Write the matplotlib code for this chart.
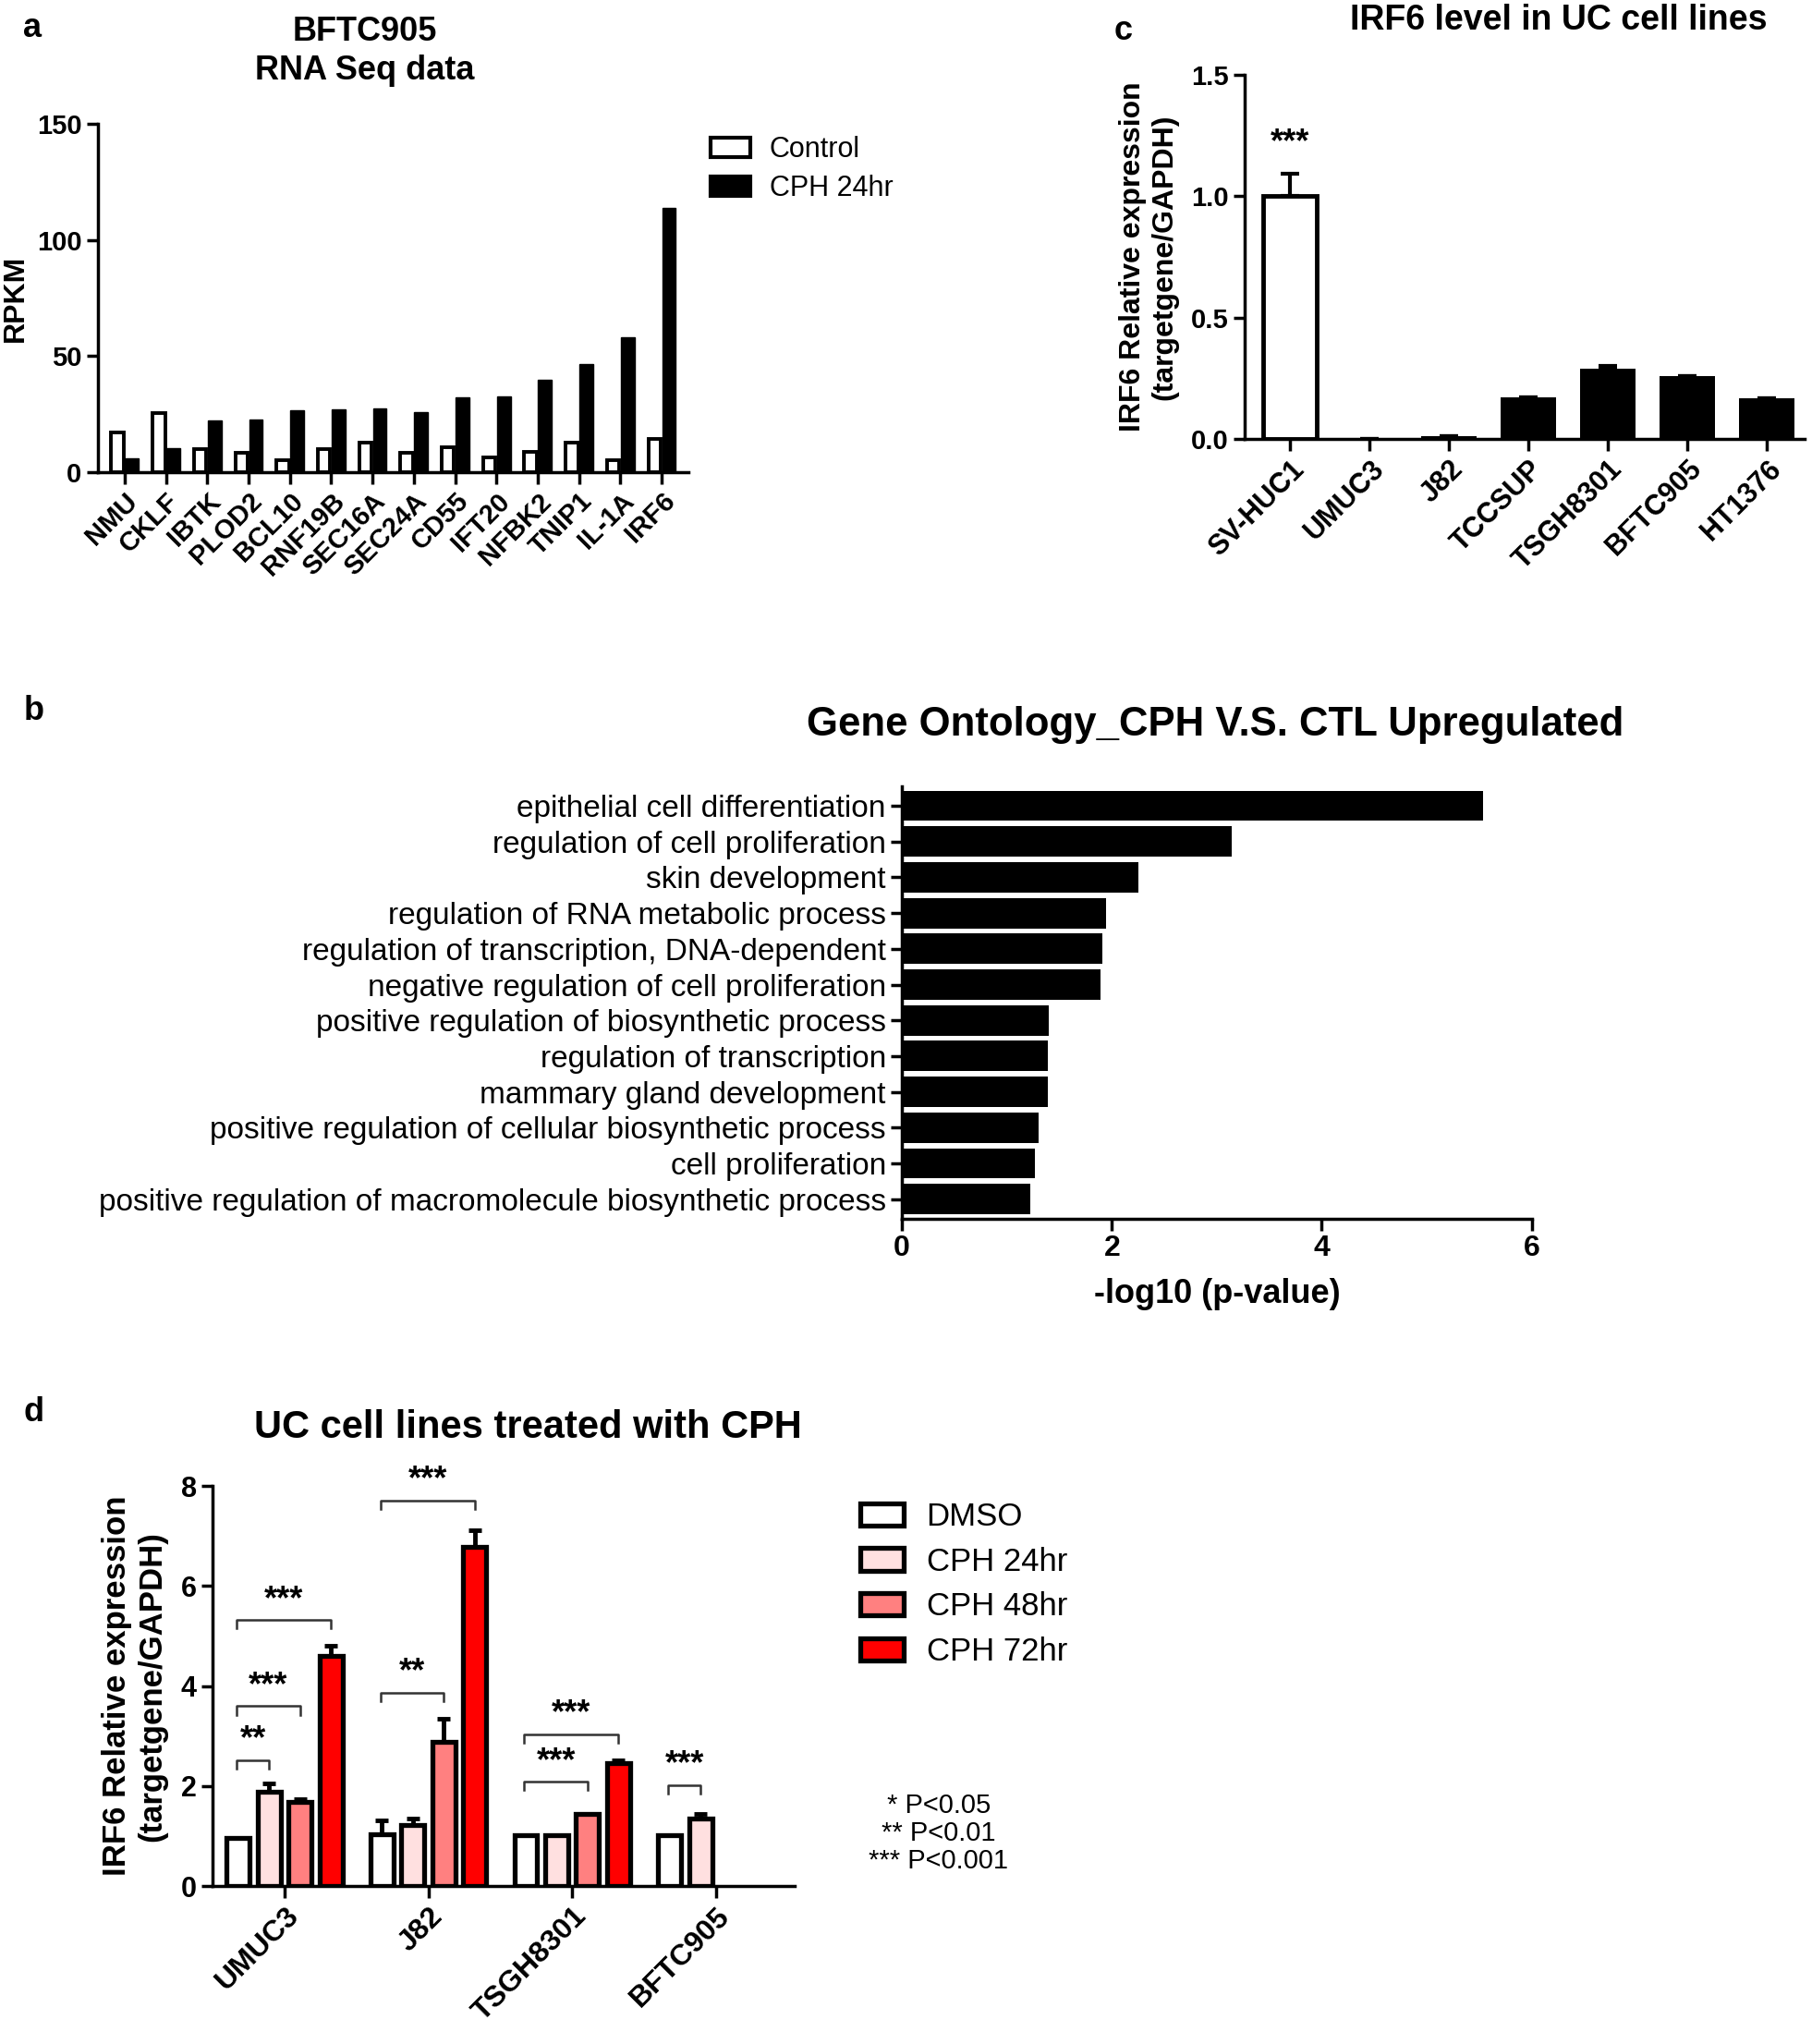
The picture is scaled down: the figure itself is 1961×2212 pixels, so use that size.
import numpy as np
import matplotlib
matplotlib.use("Agg")
import matplotlib.pyplot as plt

plt.rcParams['font.family'] = ['Liberation Sans', 'DejaVu Sans']
plt.rcParams['axes.linewidth'] = 2.5
plt.rcParams['xtick.major.width'] = 2.5
plt.rcParams['ytick.major.width'] = 2.5

# panel a: RNA seq
genes = ['NMU', 'CKLF', 'IBTK', 'PLOD2', 'BCL10', 'RNF19B', 'SEC16A', 'SEC24A',
         'CD55', 'IFT20', 'NFBK2', 'TNIP1', 'IL-1A', 'IRF6']
rpkm_control = [17, 25.5, 9.7, 8.1, 5.2, 9.7, 12.7, 8.1, 10.6, 6.2, 8.8, 12.7, 5.2, 14.1]
rpkm_cph = [5.7, 10.4, 22.1, 22.4, 26.7, 27.1, 27.3, 25.7, 32.2, 32.7, 39.7, 46.6, 57.9, 113.6]

# panel b: gene ontology
go_terms = ['epithelial cell differentiation', 'regulation of cell proliferation',
            'skin development', 'regulation of RNA metabolic process',
            'regulation of transcription, DNA-dependent',
            'negative regulation of cell proliferation',
            'positive regulation of biosynthetic process', 'regulation of transcription',
            'mammary gland development',
            'positive regulation of cellular biosynthetic process', 'cell proliferation',
            'positive regulation of macromolecule biosynthetic process']
go_logp = [5.54, 3.14, 2.25, 1.94, 1.91, 1.89, 1.40, 1.39, 1.39, 1.30, 1.27, 1.22]

# panel c: IRF6 in cell lines
cell_lines = ['SV-HUC1', 'UMUC3', 'J82', 'TCCSUP', 'TSGH8301', 'BFTC905', 'HT1376']
irf6_level = [1.0, 0.0, 0.011, 0.173, 0.29, 0.26, 0.17]
irf6_err = [0.09, 0.0, 0.0, 0.0, 0.012, 0.0, 0.0]

# panel d: treated lines
treat_lines = ['UMUC3', 'J82', 'TSGH8301', 'BFTC905']
treatments = ['DMSO', 'CPH 24hr', 'CPH 48hr', 'CPH 72hr']
treat_colors = ['#FFFFFF', '#FFE0E0', '#FF8080', '#FF0000']
dmso = [0.96, 1.04, 1.02, 1.02]
cph24 = [1.88, 1.23, 1.02, 1.36]
cph48 = [1.69, 2.88, 1.44, np.nan]
cph72 = [4.60, 6.78, 2.47, np.nan]
dmso_err = [0.0, 0.28, 0.0, 0.0]
cph24_err = [0.17, 0.13, 0.0, 0.08]
cph48_err = [0.05, 0.47, 0.0, 0.0]
cph72_err = [0.21, 0.34, 0.05, 0.0]
# (group, bar from, bar to, height, label)
brackets = [(0, 0, 3, 5.32, '***'), (0, 0, 2, 3.6, '***'), (0, 0, 1, 2.52, '**'),
            (1, 0, 3, 7.71, '***'), (1, 0, 2, 3.87, '**'),
            (2, 0, 3, 3.04, '***'), (2, 0, 2, 2.09, '***'),
            (3, 0, 1, 2.02, '***')]

fig = plt.figure(figsize=(19.61, 22.12), dpi=100)

def style_axes(ax):
    ax.spines['top'].set_visible(False)
    ax.spines['right'].set_visible(False)
    ax.tick_params(direction='out', length=9)
    for t in ax.get_xticklabels() + ax.get_yticklabels():
        t.set_fontweight('bold')

# ---- a ----
axa = fig.add_axes([0.054, 0.7691, 0.326, 0.1703])
x = np.arange(len(genes))
axa.bar(x - 0.175, rpkm_control, 0.3, color='white', edgecolor='black', linewidth=2.8)
axa.bar(x + 0.175, rpkm_cph, 0.33, color='black', edgecolor='black', linewidth=1)
axa.set_xlim(-0.65, len(genes) - 0.35)
axa.set_ylim(0, 150)
axa.set_yticks([0, 50, 100, 150])
axa.set_xticks(x)
axa.set_xticklabels(genes, rotation=45, ha='right', rotation_mode='anchor', fontsize=21)
axa.tick_params(axis='y', labelsize=21)
axa.set_ylabel('RPKM', fontsize=23, fontweight='bold', labelpad=6)
style_axes(axa)
fig.text(0.2014, 0.9845, 'BFTC905', fontsize=26, fontweight='bold', ha='center', va='center')
fig.text(0.2014, 0.9655, 'RNA Seq data', fontsize=26, fontweight='bold', ha='center', va='center')
axa.legend(handles=[plt.Rectangle((0, 0), 1, 1, fc='white', ec='black', lw=3),
                    plt.Rectangle((0, 0), 1, 1, fc='black', ec='black', lw=3)],
           labels=['Control', 'CPH 24hr'], loc='upper left', bbox_to_anchor=(0.378, 0.946),
           bbox_transform=fig.transFigure, frameon=False, fontsize=22,
           handlelength=1.4, handleheight=0.7, labelspacing=0.4, handletextpad=0.7)

# ---- b ----
axb = fig.add_axes([0.4978, 0.4037, 0.3475, 0.2117])
yb = np.arange(len(go_terms))
axb.barh(yb, go_logp, 0.85, color='black')
axb.set_ylim(len(go_terms) - 0.45, -0.55)
axb.set_xlim(0, 6)
axb.set_xticks([0, 2, 4, 6])
axb.set_yticks(yb)
axb.set_yticklabels(go_terms, fontsize=24)
axb.tick_params(axis='x', labelsize=23, length=10)
axb.tick_params(axis='y', length=6)
axb.set_xlabel('-log10 (p-value)', fontsize=26, fontweight='bold', labelpad=12)
style_axes(axb)
for t in axb.get_yticklabels():
    t.set_fontweight('normal')
fig.text(0.6705, 0.6455, 'Gene Ontology_CPH V.S. CTL Upregulated', fontsize=31.5,
         fontweight='bold', ha='center', va='center')

# ---- c ----
axc = fig.add_axes([0.687, 0.7851, 0.3087, 0.1785])
xc = np.arange(len(cell_lines))
axc.bar(xc[:1], irf6_level[:1], 0.68, color='white', edgecolor='black', linewidth=3.5, zorder=2)
axc.bar(xc[1:], irf6_level[1:], 0.7, color='black', linewidth=0, zorder=2)
axc.errorbar(xc, irf6_level, yerr=[np.zeros(len(xc)), irf6_err], fmt='none',
             ecolor='black', elinewidth=3, capsize=7, capthick=3, zorder=1)
axc.text(xc[0], 1.15, '***', ha='center', va='bottom', fontsize=26, fontweight='bold')
axc.set_xlim(-0.57, len(cell_lines) - 0.53)
axc.set_ylim(0, 1.5)
axc.set_yticks([0, 0.5, 1.0, 1.5])
axc.set_yticklabels(['0.0', '0.5', '1.0', '1.5'])
axc.set_xticks(xc)
axc.set_xticklabels(cell_lines, rotation=45, ha='right', rotation_mode='anchor', fontsize=22)
axc.tick_params(axis='y', labelsize=21)
axc.set_ylabel('IRF6 Relative expression\n(targetgene/GAPDH)', fontsize=23,
               fontweight='bold', labelpad=10)
style_axes(axc)
fig.text(0.86, 0.99, 'IRF6 level in UC cell lines', fontsize=27, fontweight='bold',
         ha='center', va='center')

# ---- d ----
axd = fig.add_axes([0.1173, 0.0772, 0.3215, 0.1958])
xd = np.arange(len(treat_lines))
step = 0.215
means = [dmso, cph24, cph48, cph72]
errs = [dmso_err, cph24_err, cph48_err, cph72_err]
handles = []
for i in range(4):
    pos = xd + (i - 1.5) * step
    vals = np.array(means[i], dtype=float)
    ok = ~np.isnan(vals)
    b = axd.bar(pos[ok], vals[ok], 0.16, color=treat_colors[i], edgecolor='black',
                linewidth=3.8, zorder=2, label=treatments[i])
    axd.errorbar(pos[ok], vals[ok], yerr=[np.zeros(ok.sum()), np.array(errs[i])[ok]],
                 fmt='none', ecolor='black', elinewidth=3.5, capsize=5, capthick=3.5, zorder=1)
    handles.append(b)
for g, i0, i1, h, lab in brackets:
    xa = g + (i0 - 1.5) * step - 0.01
    xb = g + (i1 - 1.5) * step
    axd.plot([xa, xa, xb, xb], [h - 0.17, h, h, h - 0.17], color='#333333', lw=1.8)
    axd.text((xa + xb) / 2, h + 0.08, lab, ha='center', va='bottom', fontsize=26,
             fontweight='bold')
axd.set_xlim(-0.5, len(treat_lines) - 0.45)
axd.set_ylim(0, 8)
axd.set_yticks([0, 2, 4, 6, 8])
axd.set_xticks(xd)
axd.set_xticklabels(treat_lines, rotation=45, ha='right', rotation_mode='anchor', fontsize=23)
axd.tick_params(axis='y', labelsize=22)
axd.set_ylabel('IRF6 Relative expression\n(targetgene/GAPDH)', fontsize=25,
               fontweight='bold', labelpad=10)
style_axes(axd)
fig.text(0.2914, 0.3017, 'UC cell lines treated with CPH', fontsize=30, fontweight='bold',
         ha='center', va='center')
axd.legend(handles=handles, loc='upper left', bbox_to_anchor=(0.459, 0.2795),
           bbox_transform=fig.transFigure, frameon=False, fontsize=25,
           handlelength=1.35, handleheight=0.7, labelspacing=0.45, handletextpad=0.7)
fig.text(0.518, 0.103, '* P<0.05\n** P<0.01\n*** P<0.001', fontsize=21,
         ha='center', va='center', multialignment='center', linespacing=1.1)

# panel letters
for lx, ly, lab in [(0.013, 0.986, 'a'), (0.013, 0.652, 'b'), (0.615, 0.985, 'c'),
                    (0.013, 0.309, 'd')]:
    fig.text(lx, ly, lab, fontsize=26, fontweight='bold', va='center')

fig.savefig('out.png', dpi=100)
